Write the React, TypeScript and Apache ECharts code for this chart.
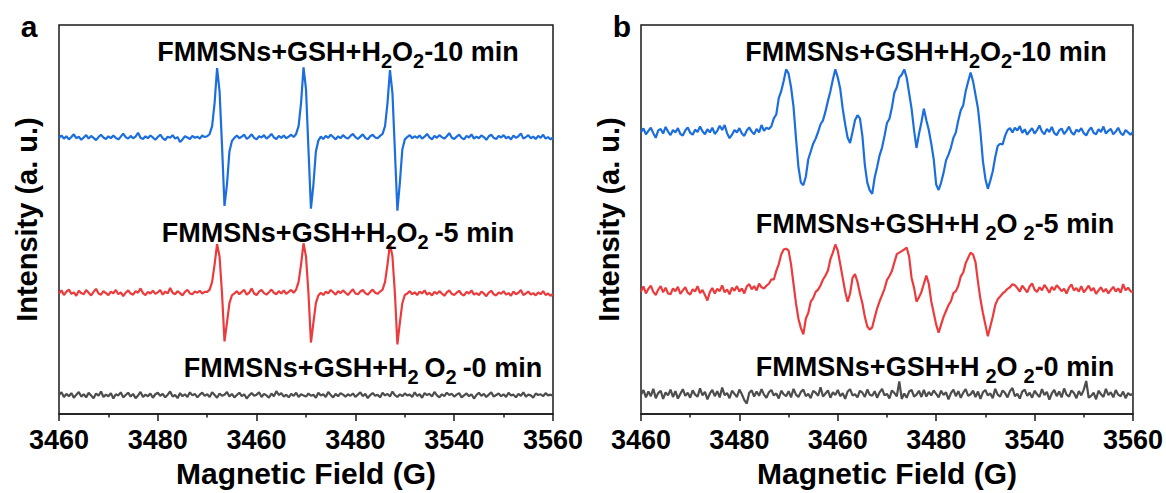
import React, { useEffect, useRef } from "react";
import * as echarts from "echarts";

// EPR spectra: field axis sampled every 0.5 G from 3460 G to 3560 G
const FIELD_START = 3460;
const FIELD_STEP = 0.5;
const FIELD_MIN = 3460;
const FIELD_MAX = 3560;
const FIELD_INTERVAL = 20;
const tickLabels = ["3460", "3480", "3460", "3480", "3540", "3560"];

const seriesNames = [
  "FMMSNs+GSH+H2O2-10 min",
  "FMMSNs+GSH+H2O2-5 min",
  "FMMSNs+GSH+H2O2-0 min",
];

// Panel a (offset traces, arbitrary units)
const panelA10 = [
  71.0, 71.6, 70.8, 71.4, 70.6, 71.2, 71.9, 70.9, 71.3, 70.5, 71.1, 71.7, 70.8, 71.5, 71.0, 70.4, 71.2, 71.8, 71.1, 70.7,
  71.4, 70.9, 71.6, 71.0, 70.6, 71.3, 72.1, 71.2, 70.8, 71.5, 70.9, 71.3, 72.3, 71.0, 70.7, 71.4, 70.9, 71.6, 71.1, 70.5,
  71.2, 71.8, 70.9, 70.4, 71.3, 71.0, 71.7, 70.8, 71.2, 69.9, 70.6, 71.4, 71.1, 70.7, 71.5, 71.0, 71.3, 70.8, 71.6, 71.2,
  71.4, 72.0, 74.0, 80.0, 88.9, 83.0, 69.0, 53.5, 59.0, 67.5, 70.2, 71.0,
  71.6, 70.9, 71.3, 71.8, 70.7, 71.2, 71.9, 71.0, 70.6, 71.4, 71.1, 71.7, 70.8, 71.3, 72.0, 71.1, 70.7, 71.5, 71.0, 71.6, 70.9, 71.3, 71.8, 71.2,
  72.0, 74.0, 80.0, 89.1, 83.5, 68.0, 52.8, 59.0, 67.5, 70.3,
  71.3, 70.7, 71.5, 71.0, 71.8, 71.2, 70.6, 71.4, 70.9, 71.7, 71.1, 70.8, 71.5, 72.0, 71.2, 70.7, 71.3, 71.9, 71.0, 70.6, 71.4, 71.8, 71.1, 70.9, 71.5,
  72.0, 74.0, 80.0, 88.4, 82.5, 67.5, 52.3, 59.5, 68.0, 70.6,
  71.2, 71.7, 70.9, 71.4, 71.0, 71.6, 70.8, 71.3, 72.0, 71.1, 70.6, 71.5, 71.0, 71.7, 71.2, 70.8, 71.4, 72.2, 71.1, 70.7,
  71.3, 71.8, 71.0, 70.6, 71.5, 71.1, 71.9, 70.8, 71.3, 70.9, 71.6, 71.2, 70.5, 71.4, 71.8, 71.0, 70.7, 71.5, 71.1, 71.7,
  70.9, 71.3, 70.6, 71.6, 71.0, 71.4, 72.1, 70.8, 71.2, 71.7, 70.9, 71.3, 70.7, 71.5, 71.0, 71.8, 70.8, 71.2, 70.6, 71.1,
];

const panelA5 = [
  31.0, 31.8, 30.6, 31.5, 32.0, 30.9, 31.3, 30.4, 31.7, 31.1, 30.8, 31.9, 31.2, 30.5, 31.4, 32.2, 31.0, 30.7, 31.6, 31.1,
  30.6, 31.5, 31.0, 31.9, 30.8, 31.3, 30.3, 31.2, 31.8, 31.0, 30.7, 31.6, 31.2, 32.3, 31.1, 30.6, 31.4, 31.0, 31.7, 30.9,
  31.3, 31.9, 30.7, 31.5, 31.0, 32.4, 31.2, 30.8, 31.6, 31.1, 30.5, 31.4, 31.9, 31.0, 30.8, 31.5, 31.2, 31.7, 31.0, 31.4,
  31.4, 32.0, 34.0, 38.5, 43.7, 40.5, 31.0, 18.7, 23.5, 28.5, 30.5, 31.0,
  31.6, 30.8, 31.4, 31.9, 30.7, 31.2, 32.3, 31.0, 30.6, 31.5, 31.9, 31.1, 30.7, 31.3, 32.0, 31.2, 30.8, 31.6, 31.0, 31.8, 30.9, 31.4, 31.9, 31.2,
  32.0, 34.0, 38.5, 43.9, 40.5, 31.0, 18.4, 23.5, 28.5, 30.5,
  31.2, 30.6, 31.5, 31.0, 31.9, 31.3, 30.7, 31.6, 31.1, 31.8, 31.2, 30.6, 31.4, 32.1, 31.0, 30.8, 31.5, 31.9, 31.1, 30.7, 31.4, 32.0, 31.2, 30.9, 31.5,
  32.0, 34.0, 38.5, 43.8, 40.5, 31.0, 17.9, 23.5, 28.5, 30.6,
  31.0, 31.6, 30.8, 31.3, 30.6, 31.5, 31.0, 31.8, 30.7, 31.2, 30.5, 31.4, 30.9, 31.6, 31.0, 30.4, 31.3, 31.8, 30.9, 30.6,
  31.2, 31.7, 30.8, 30.5, 31.4, 31.0, 31.8, 30.7, 31.1, 30.6, 31.5, 31.0, 30.3, 31.2, 31.7, 30.8, 30.5, 31.3, 30.9, 31.6,
  30.7, 31.1, 30.4, 31.5, 30.8, 31.2, 31.9, 30.6, 31.0, 31.5, 30.7, 31.1, 30.5, 31.3, 30.8, 31.6, 30.6, 31.0, 30.4, 30.9,
];

const panelA0 = [
  4.9, 5.6, 4.4, 5.2, 4.6, 5.4, 4.2, 5.0, 5.7, 4.5, 5.1, 4.3, 5.5, 4.8, 4.1, 5.3, 4.7, 5.8, 4.4, 5.0,
  4.6, 5.4, 4.0, 5.1, 4.8, 5.6, 4.3, 4.9, 5.5, 4.5, 5.2, 4.1, 4.8, 5.7, 4.4, 5.0, 4.6, 5.3, 4.2, 5.1,
  5.5, 4.7, 5.2, 4.3, 5.0, 5.8, 4.5, 4.9, 4.1, 5.4, 4.6, 5.1, 4.4, 5.6, 4.8, 5.2, 4.3, 5.0, 5.5, 4.7,
  5.1, 4.4, 5.6, 4.9, 4.2, 5.3, 4.7, 5.0, 5.7, 4.5, 5.2, 4.3, 4.9, 5.5, 4.6, 5.1, 4.0, 4.8, 5.4, 4.7,
  5.0, 5.6, 4.4, 5.2, 4.8, 4.2, 5.3, 4.6, 5.9, 4.9, 5.4, 4.5, 5.0, 4.3, 5.2, 4.7, 5.5, 4.4, 5.1, 4.8,
  4.5, 5.3, 4.7, 5.0, 4.2, 5.5, 4.8, 5.1, 4.4, 5.7, 4.9, 4.3, 5.2, 4.6, 5.4, 5.0, 4.5, 5.1, 4.7, 5.3,
  4.4, 5.0, 5.6, 4.6, 5.2, 4.1, 4.9, 5.4, 4.7, 5.0, 4.3, 5.5, 4.8, 5.2, 4.5, 5.8, 4.9, 4.4, 5.1, 4.6,
  5.3, 4.8, 5.0, 4.4, 5.6, 4.7, 5.1, 4.2, 5.4, 4.9, 5.2, 4.5, 5.7, 4.8, 4.3, 5.1, 4.6, 5.5, 4.9, 5.2,
  4.5, 5.0, 5.4, 4.3, 4.8, 5.3, 4.6, 5.1, 4.0, 4.9, 5.5, 4.7, 5.2, 4.4, 5.0, 5.6, 4.5, 4.9, 5.3, 4.6,
  5.1, 4.4, 5.5, 4.8, 5.0, 4.3, 5.2, 4.7, 5.6, 4.5, 5.0, 4.8, 4.2, 5.3, 4.9, 5.1, 4.6, 5.4, 4.8, 5.0, 4.7,
];

// Panel b (offset traces, arbitrary units)
const panelB10 = [
  72.5, 73.4, 71.9, 72.8, 73.6, 72.2, 71.0, 72.9, 73.3, 72.1, 73.8, 72.6, 71.7, 73.0, 72.4, 73.5, 72.0, 71.6, 72.9, 73.7,
  72.3, 71.8, 73.1, 72.5, 73.9, 72.7, 71.9, 73.2, 72.4, 73.6, 72.0, 72.8, 74.1, 73.0, 74.3, 72.2, 70.9, 71.8, 73.0, 72.4,
  73.5, 72.1, 71.5, 72.9, 73.7, 72.6, 71.9, 73.3, 72.4, 74.3, 72.8, 73.6,
  73.3, 74.0, 76.0, 77.0, 81.2, 83.0, 85.6, 88.6, 87.5, 84.0, 79.0, 71.0, 63.5, 59.5, 58.8, 61.0, 65.5, 67.5, 69.5, 70.8,
  72.5, 74.5, 75.5, 77.8, 80.5, 83.0, 86.0, 88.6, 86.5, 83.6, 78.5, 74.5, 71.0, 69.7, 72.5, 75.5, 76.8, 76.0, 71.5, 64.0,
  59.5, 57.5, 56.6, 60.8, 63.5, 66.5, 68.5, 71.5, 74.8, 75.9, 78.8, 82.6, 84.0, 86.5, 87.2, 88.6, 86.5, 82.5, 78.5, 73.0,
  68.4, 72.0, 75.0, 78.5, 75.5, 73.0, 69.5, 65.5, 59.0, 57.6, 59.5, 62.0, 65.2, 66.7, 68.5, 71.0, 72.4, 75.5, 78.1, 79.4,
  83.0, 85.5, 87.8, 85.5, 82.0, 78.5, 72.5, 65.0, 60.5, 57.9, 60.0, 62.4, 66.0, 68.9, 69.5, 69.3, 71.5, 73.0, 73.5,
  72.4, 73.6, 72.9, 74.0, 72.3, 73.2, 71.8, 72.7, 73.5, 72.1, 73.0, 74.2, 72.6, 71.9, 73.3, 72.5, 73.8, 72.2, 71.7, 72.9,
  73.4, 72.0, 72.8, 73.9, 72.4, 71.8, 73.1, 72.6, 73.5, 72.2, 71.6, 72.9, 73.7, 72.3, 71.9, 73.2, 72.5, 73.9, 72.1, 72.8,
  73.3, 71.9, 72.6, 73.6, 72.2, 71.7, 73.0, 72.4, 71.8, 72.6,
];

const panelB5 = [
  31.5, 32.8, 31.0, 32.2, 33.0, 31.4, 30.6, 32.0, 32.9, 31.3, 32.5, 31.0, 30.8, 32.3, 31.6, 32.7, 30.9, 31.8, 32.6, 31.2,
  30.7, 32.1, 31.5, 32.9, 31.1, 31.9, 30.6, 29.2, 31.4, 32.4, 31.0, 32.2, 31.6, 33.1, 31.3, 32.0, 30.8, 32.5, 31.7, 32.9,
  31.5, 32.3, 31.0, 32.8, 33.4, 32.1, 32.9, 31.8, 33.5, 32.6,
  32.3, 33.0, 33.5, 34.6, 34.6, 36.8, 38.5, 41.0, 42.3, 42.5, 42.0, 38.5, 33.5, 28.5, 24.5, 22.1, 20.5, 24.5, 26.0, 28.9,
  29.8, 31.4, 32.0, 33.1, 34.6, 35.6, 36.9, 39.8, 41.5, 43.6, 42.0, 38.5, 35.0, 31.5, 28.9, 31.0, 35.0, 36.0, 34.0, 31.0,
  28.5, 25.0, 22.5, 21.7, 22.3, 24.8, 27.2, 29.0, 30.6, 32.2, 34.5, 35.5, 36.8, 39.0, 41.1, 41.5, 41.9, 42.3, 42.8, 40.5,
  35.0, 32.5, 28.9, 30.0, 31.4, 33.5, 35.6, 33.5, 29.0, 26.0, 23.0, 20.9, 23.0, 25.0, 26.5, 28.0, 29.0, 31.1, 31.6, 33.0,
  35.4, 36.4, 38.8, 40.2, 41.5, 41.0, 39.0, 33.9, 29.5, 26.0, 23.0, 20.0, 22.5, 25.0, 28.0, 29.5, 30.2, 31.0, 31.5, 32.2,
  32.6, 33.4, 33.1,
  32.4, 31.5, 33.0, 32.2, 31.3, 32.8, 33.6, 32.0, 31.4, 32.6, 31.8, 33.2, 32.3, 31.2, 32.7, 31.9, 33.1, 32.4, 31.6, 32.2,
  31.0, 32.5, 33.3, 31.8, 32.4, 31.5, 32.9, 31.3, 32.1, 33.0, 31.7, 32.4, 30.9, 31.8, 32.6, 31.4, 32.2, 31.0, 31.9, 32.7,
  31.5, 32.3, 31.2, 33.4, 31.8, 32.5, 31.6, 31.3,
];

const panelB0 = [
  5.0, 6.2, 4.3, 5.8, 4.6, 6.5, 4.1, 5.4, 6.0, 3.9, 5.6, 4.8, 6.3, 4.4, 5.9, 4.0, 5.2, 6.4, 4.7, 5.5,
  4.2, 6.1, 5.0, 4.5, 6.6, 4.8, 5.7, 3.8, 5.3, 6.2, 4.6, 5.9, 4.3, 6.8, 4.9, 5.4, 4.1, 6.0, 5.2, 4.4,
  6.3, 5.1, 3.6, 2.7, 5.5, 6.1, 4.5, 5.8, 4.7, 6.4, 5.0, 4.2, 5.6, 6.2, 4.8, 5.3, 4.0, 6.0, 5.1, 4.6,
  5.9, 4.3, 6.5, 5.0, 4.4, 5.7, 6.3, 4.6, 5.2, 4.1, 6.0, 5.5, 4.7, 6.9, 4.5, 5.3, 6.1, 4.2, 5.6, 4.9,
  6.2, 4.6, 5.4, 3.9, 5.8, 6.4, 4.8, 5.1, 4.3, 6.0, 5.5, 4.4, 6.3, 5.0, 4.7, 5.9, 4.2, 5.6, 6.5, 4.8,
  5.2, 4.0, 6.1, 5.4, 4.6, 8.4, 3.9, 5.3, 4.2, 5.8, 6.2, 4.5, 5.0, 6.0, 4.4, 6.2, 4.5, 5.7, 4.8, 6.1,
  5.2, 4.3, 6.0, 4.9, 5.6, 3.8, 5.4, 6.3, 4.6, 5.9, 4.2, 5.5, 6.4, 4.7, 5.1, 6.0, 4.4, 5.8, 3.9, 5.6,
  6.2, 4.8, 5.3, 4.1, 6.5, 5.0, 4.5, 6.1, 5.4, 4.3, 5.9, 6.7, 4.6, 5.2, 4.0, 5.8, 6.3, 4.7, 5.5, 4.2,
  6.0, 5.1, 4.4, 6.4, 4.9, 5.7, 3.7, 5.3, 6.2, 4.6, 5.8, 4.3, 6.6, 5.0, 4.5, 6.1, 5.4, 4.1, 5.9, 4.8,
  6.3, 8.5, 4.2, 4.7, 5.5, 3.8, 6.0, 5.1, 4.4, 6.5, 4.9, 5.6, 4.3, 6.2, 5.0, 4.6, 5.8, 4.1, 5.4, 4.9, 5.2,
];

const colors = ["#1c6edf", "#ec3b3d", "#4d4d4d"];
const FONT = "'Liberation Sans', Arial, Helvetica, sans-serif";

const toPoints = (vals: number[]) =>
  vals.map((v, i) => [FIELD_START + i * FIELD_STEP, v]);

const makeGrid = (left: number, width: number) => ({
  left,
  top: 25,
  width,
  height: 396,
  show: true,
  borderColor: "#1a1a1a",
  borderWidth: 1.5,
  backgroundColor: "transparent",
});

const makeXAxis = (gridIndex: number) => ({
  type: "value",
  gridIndex,
  min: FIELD_MIN,
  max: FIELD_MAX,
  interval: FIELD_INTERVAL,
  axisLine: { show: true, onZero: false, lineStyle: { color: "#1a1a1a", width: 1.5 } },
  axisTick: { show: true, inside: false, length: 7, lineStyle: { color: "#1a1a1a", width: 1.5 } },
  minorTick: { show: true, splitNumber: 2, length: 3.5, lineStyle: { color: "#1a1a1a", width: 1.5 } },
  splitLine: { show: false },
  axisLabel: {
    margin: 12,
    fontSize: 27,
    fontWeight: "bold",
    color: "#000",
    fontFamily: FONT,
    showMinLabel: true,
    showMaxLabel: true,
    formatter: (v: number) => tickLabels[Math.round((v - FIELD_MIN) / FIELD_INTERVAL)] ?? "",
  },
  name: "Magnetic Field (G)",
  nameLocation: "middle",
  nameGap: 39,
  nameTextStyle: { fontSize: 30, fontWeight: "bold", color: "#000", fontFamily: FONT },
});

const makeYAxis = (gridIndex: number) => ({
  type: "value",
  gridIndex,
  min: 0,
  max: 100,
  axisLine: { show: false },
  axisTick: { show: false },
  axisLabel: { show: false },
  splitLine: { show: false },
  name: "Intensity (a. u.)",
  nameLocation: "middle",
  nameRotate: 90,
  nameGap: 18,
  nameTextStyle: { fontSize: 29, fontWeight: "bold", color: "#000", fontFamily: FONT },
});

const makeLine = (name: string, data: number[], color: string, axisIndex: number) => ({
  name,
  type: "line",
  xAxisIndex: axisIndex,
  yAxisIndex: axisIndex,
  data: toPoints(data),
  showSymbol: false,
  symbol: "none",
  smooth: false,
  lineStyle: { color, width: 2.2 },
  itemStyle: { color },
  z: 3,
});

const subBase = { fontSize: 20, fontWeight: "bold", fontFamily: FONT, fill: "#000", lineHeight: 32 };
const richStyles = {
  m: { fontSize: 27, fontWeight: "bold", fontFamily: FONT, fill: "#000", lineHeight: 32 },
  s: { ...subBase, padding: [18, 0, 0, 0] },
  sl: { ...subBase, padding: [18, 0, 0, 6] },
  sr: { ...subBase, padding: [18, 6, 0, 0] },
};

const annotation = (x: number, y: number, rich: string) => ({
  type: "text",
  x,
  y,
  z: 10,
  style: {
    text: rich,
    rich: richStyles,
    align: "center",
    verticalAlign: "middle",
    textAlign: "center",
    textVerticalAlign: "middle",
    fill: "#000",
    font: `bold 27px ${FONT}`,
  },
});

const panelLetter = (x: number, y: number, letter: string) => ({
  type: "text",
  x,
  y,
  z: 10,
  style: {
    text: letter,
    align: "center",
    verticalAlign: "middle",
    textAlign: "center",
    textVerticalAlign: "middle",
    fill: "#000",
    font: `bold 30px ${FONT}`,
  },
});

const option = {
  animation: false,
  backgroundColor: "#fff",
  grid: [makeGrid(59, 494), makeGrid(641, 495)],
  xAxis: [makeXAxis(0), makeXAxis(1)],
  yAxis: [makeYAxis(0), makeYAxis(1)],
  series: [
    makeLine(seriesNames[0], panelA10, colors[0], 0),
    makeLine(seriesNames[1], panelA5, colors[1], 0),
    makeLine(seriesNames[2], panelA0, colors[2], 0),
    makeLine(seriesNames[0], panelB10, colors[0], 1),
    makeLine(seriesNames[1], panelB5, colors[1], 1),
    makeLine(seriesNames[2], panelB0, colors[2], 1),
  ],
  graphic: [
    panelLetter(29, 26, "a"),
    panelLetter(622, 26, "b"),
    annotation(338, 52, "{m|FMMSNs+GSH+H}{s|2}{m|O}{s|2}{m|-10 min}"),
    annotation(338, 233, "{m|FMMSNs+GSH+H}{s|2}{m|O}{sr|2}{m|-5 min}"),
    annotation(363, 368, "{m|FMMSNs+GSH+H}{sr|2}{m|O}{sr|2}{m|-0 min}"),
    annotation(926, 52, "{m|FMMSNs+GSH+H}{s|2}{m|O}{s|2}{m|-10 min}"),
    annotation(935, 224, "{m|FMMSNs+GSH+H}{sl|2}{m|O}{sl|2}{m|-5 min}"),
    annotation(935, 367, "{m|FMMSNs+GSH+H}{sl|2}{m|O}{sl|2}{m|-0 min}"),
  ],
};

export default function App() {
  const ref = useRef<HTMLDivElement>(null);
  useEffect(() => {
    if (!ref.current) return;
    const chart = echarts.init(ref.current, undefined, { renderer: "svg" });
    chart.setOption(option as any);
    return () => chart.dispose();
  }, []);
  return (
    <div
      ref={ref}
      style={{ position: "absolute", left: 0, top: 0, width: 1166, height: 493, background: "#fff" }}
    />
  );
}
